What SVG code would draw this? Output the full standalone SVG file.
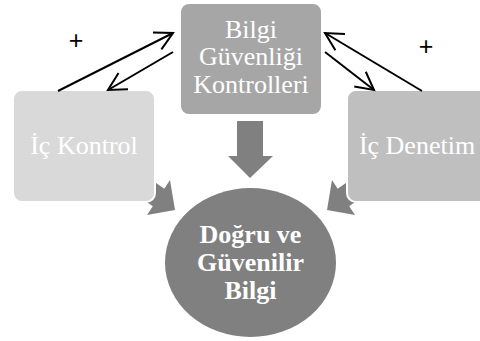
<svg xmlns="http://www.w3.org/2000/svg" width="480" height="341" viewBox="0 0 480 341">
<defs>
<style>
.lbl{font-family:"Liberation Serif","Times New Roman",serif;font-size:26px;fill:#ffffff;text-anchor:middle}
.bold{font-weight:bold}
.plus{font-family:"Liberation Sans",Arial,sans-serif;font-size:25px;fill:#000000;text-anchor:middle}
.box{stroke:#ffffff;stroke-width:2}
.thin{fill:none;stroke:#000;stroke-width:2;marker-end:url(#open)}
.block{fill:#808080}
</style>
<marker id="open" viewBox="-20 -11 22 22" refX="0" refY="0" markerWidth="22" markerHeight="22" markerUnits="userSpaceOnUse" orient="auto" overflow="visible">
<path d="M-17.7,-9.4 L0,0 L-17.7,9.4" fill="none" stroke="#000" stroke-width="2" stroke-linejoin="miter"/>
</marker>
</defs>
<rect width="480" height="341" fill="#ffffff"/>
<g id="connectors">
<polygon class="block" points="170,180 164.3,188.8 139,171 127,188 152.8,206.3 147,215 175,210"/>
<polygon class="block" points="332,180 337.7,188.8 363,171 375,188 349.2,206.3 355,215 327,210"/>
</g>
<g id="ic-kontrol">
<rect class="box" x="13" y="90" width="142" height="112" rx="9" fill="#d9d9d9"/>
<text class="lbl" x="84" y="154">İç Kontrol</text>
</g>
<g id="ic-denetim">
<rect class="box" x="347" y="90" width="142" height="112" rx="9" fill="#bfbfbf"/>
<text class="lbl" x="417" y="154">İç Denetim</text>
</g>
<g id="bilgi-guvenligi">
<rect class="box" x="180" y="3" width="142" height="112" rx="9" fill="#a6a6a6"/>
<text class="lbl" x="251" y="38">Bilgi</text>
<text class="lbl" x="251" y="65">Güvenliği</text>
<text class="lbl" x="251" y="93">Kontrolleri</text>
</g>
<g id="connectors-2">
<polygon class="block" points="237,121 263,121 263,156 273,156 250,178 228,156 237,156"/>
<line class="thin" x1="58" y1="91" x2="173" y2="33"/>
<line class="thin" x1="173" y1="52" x2="108" y2="90"/>
<line class="thin" x1="422" y1="91" x2="325" y2="33"/>
<line class="thin" x1="325" y1="52" x2="374" y2="90"/>
<text class="plus" x="76" y="49">+</text>
<text class="plus" x="426" y="55">+</text>
</g>
<g id="dogru-bilgi">
<ellipse cx="250.5" cy="262.5" rx="85.5" ry="74.5" fill="#808080"/>
<text class="lbl bold" x="250.5" y="243">Doğru ve</text>
<text class="lbl bold" x="250.5" y="271">Güvenilir</text>
<text class="lbl bold" x="250.5" y="299">Bilgi</text>
</g>
</svg>
